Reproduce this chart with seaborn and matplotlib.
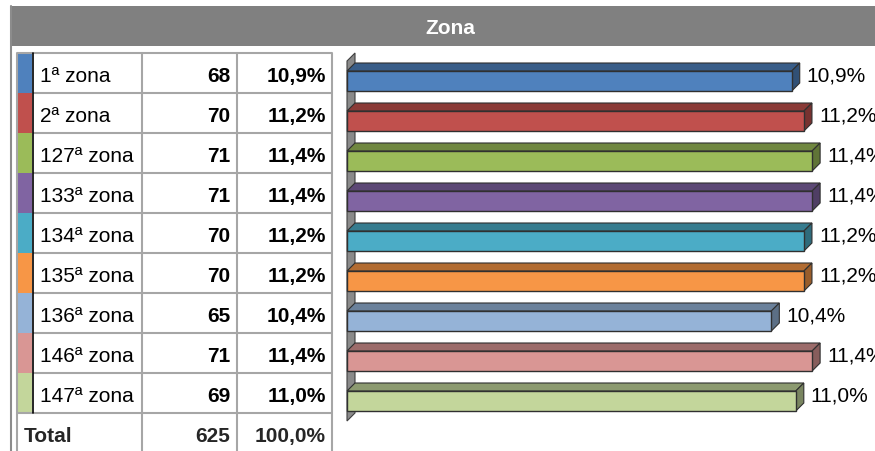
import matplotlib
matplotlib.use("Agg")
import matplotlib.pyplot as plt
import seaborn as sns
import numpy as np
from matplotlib.patches import Polygon, Rectangle
from matplotlib.transforms import IdentityTransform

# ---- data ----
zones = ["1ª zona", "2ª zona", "127ª zona", "133ª zona", "134ª zona",
         "135ª zona", "136ª zona", "146ª zona", "147ª zona"]
counts = [68, 70, 71, 71, 70, 70, 65, 71, 69]
pcts = [10.9, 11.2, 11.4, 11.4, 11.2, 11.2, 10.4, 11.4, 11.0]
total_count = 625
total_pct = 100.0
title = "Zona"
colors = ["#4F81BD", "#C0504D", "#9BBB59", "#8064A2", "#4BACC6",
          "#F79646", "#95B3D7", "#D99694", "#C3D69B"]

def fmt(v):
    return f"{v:.1f}".replace(".", ",") + "%"

sns.set_theme(style="white")
plt.rcParams["font.family"] = ["Liberation Sans", "DejaVu Sans"]

W, H = 875, 452
DPI = 100
fig = plt.figure(figsize=(W / DPI, H / DPI), dpi=DPI)
fig.patch.set_facecolor("white")

# pixel overlay (y downward)
ov = fig.add_axes([0, 0, 1, 1])
ov.set_xlim(0, W)
ov.set_ylim(H, 0)
ov.set_axis_off()

# header
ov.add_patch(Rectangle((11, 7), W - 11, 40, facecolor="#808080", edgecolor="none"))
ov.plot([10.5, 10.5], [7, H], color="#8C8C8C", lw=1.5)
ov.text(450, 28, title, color="white", fontsize=15, fontweight="bold",
        ha="center", va="center")

# table
grid = "#A6A6A6"
row_top = 54
row_h = 40
x_strip0, x_strip1 = 18, 32
x_cols = [17, 33, 142, 237, 332]
n = len(zones)
for i in range(n):
    y0 = row_top + i * row_h
    ov.add_patch(Rectangle((x_strip0, y0), x_strip1 - x_strip0, row_h,
                           facecolor=colors[i], edgecolor="none"))
    base = y0 + 28
    ov.text(40, base, zones[i], fontsize=15, ha="left", va="baseline", color="black")
    ov.text(230, base, str(counts[i]), fontsize=15, fontweight="bold",
            ha="right", va="baseline", color="black")
    ov.text(326, base, fmt(pcts[i]), fontsize=15, fontweight="bold",
            ha="right", va="baseline", color="black")
# total row
yT = row_top + n * row_h
ov.text(24, yT + 28, "Total", fontsize=15, fontweight="bold", ha="left", va="baseline")
ov.text(230, yT + 28, str(total_count), fontsize=15, fontweight="bold", ha="right", va="baseline")
ov.text(326, yT + 28, fmt(total_pct), fontsize=15, fontweight="bold", ha="right", va="baseline")

# grid lines
for i in range(n + 2):
    y = row_top + i * row_h
    x_start = 33 if (0 < i < n) else 17
    ov.plot([x_start, 332], [y, y], color=grid, lw=1.5, solid_capstyle="butt")
ov.plot([17, 17], [row_top, H], color=grid, lw=1.5)
for x in [142, 237, 332]:
    ov.plot([x, x], [row_top, H], color=grid, lw=1.5)
ov.plot([32.5, 32.5], [row_top, yT], color="black", lw=1.2)

# ---- chart ----
px_left, px_right = 347, W
px_top, px_bot = 62, 422
scale = 40.8  # pixels per percent
ax = fig.add_axes([px_left / W, (H - px_bot) / H, (px_right - px_left) / W,
                   (px_bot - px_top) / H])
ax.patch.set_alpha(0)
sns.barplot(x=pcts, y=zones, hue=zones, palette=colors, legend=False,
            orient="h", width=0.5, saturation=1, ax=ax,
            edgecolor="#303030", linewidth=1.0, zorder=3)
ax.set_xlim(0, (px_right - px_left) / scale)
ax.set_ylim(n - 0.5, -0.5)
ax.set_axis_off()

dx, dy = 8, 8
disp = IdentityTransform()
tD = ax.transData

def to_disp(x, y):
    return tD.transform((x, y))

def darker(c, f):
    r, g, b = matplotlib.colors.to_rgb(c)
    return (r * f, g * f, b * f)

# wall
p_tl = to_disp(0, -0.5)
p_bl = to_disp(0, n - 0.5)
wall = [p_tl, p_tl + [dx, dy], p_bl + [dx, dy], p_bl]
ax.add_patch(Polygon(wall, closed=True, transform=disp, facecolor="#8A8A8A",
                     edgecolor="#404040", lw=0.8, clip_on=False, zorder=1))

for p in ax.patches[:]:
    if not isinstance(p, Rectangle) or p.get_width() <= 0:
        continue
    x0 = p.get_x()
    x1 = x0 + p.get_width()
    yt = p.get_y()
    yb = yt + p.get_height()
    if yt > yb:
        yt, yb = yb, yt
    c = p.get_facecolor()
    A = to_disp(x0, yt)  # top-left (display: higher y)
    B = to_disp(x1, yt)
    C = to_disp(x1, yb)
    # top face (yt is the upper edge since axis is inverted)
    top = [A, B, B + [dx, dy], A + [dx, dy]]
    side = [B, B + [dx, dy], C + [dx, dy], C]
    ax.add_patch(Polygon(top, closed=True, transform=disp, facecolor=darker(c, 0.72),
                         edgecolor="#303030", lw=0.8, clip_on=False, zorder=2))
    ax.add_patch(Polygon(side, closed=True, transform=disp, facecolor=darker(c, 0.62),
                         edgecolor="#303030", lw=0.8, clip_on=False, zorder=2))
    p.set_clip_on(False)

for i, v in enumerate(pcts):
    ax.annotate(fmt(v), xy=(v, i), xytext=(15 * 72 / DPI, 6 * 72 / DPI),
                textcoords="offset points", ha="left", va="center",
                fontsize=15, color="black", annotation_clip=False)

fig.savefig("out.png", dpi=DPI)
